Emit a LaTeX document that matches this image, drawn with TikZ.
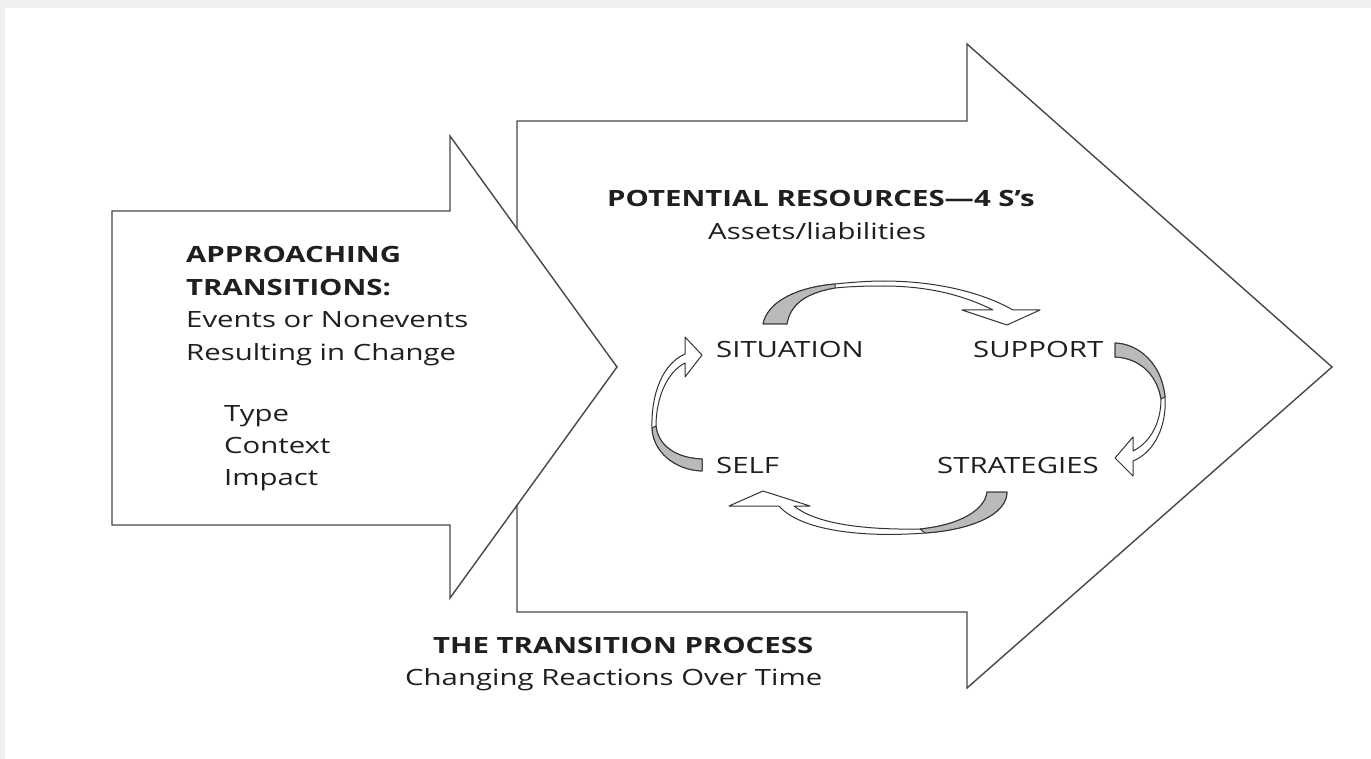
\documentclass[tikz,border=0pt]{standalone}
\usepackage{fontspec}
\setmainfont{Open Sans}[FakeStretch=1.31]
\tikzset{
  bigarrow/.style={draw=black!72, line width=1.4pt, fill=white, line join=miter},
  ribbon/.style={draw=black!80, line width=1pt, fill=white, line join=round},
  ribbongray/.style={draw=black!80, line width=1pt, fill=black!27, line join=round},
  lbl/.style={anchor=base west, inner sep=0pt, text=black!88, font=\fontsize{22.4}{26}\selectfont},
  lblb/.style={lbl, font=\fontsize{22.4}{26}\selectfont\bfseries},
}
\begin{document}
\begin{tikzpicture}[x=1pt,y=-1pt]
\useasboundingbox (0,0) rectangle (1371,759);
\fill[black!6] (0,0) rectangle (1371,759);
\fill[white] (5,8) rectangle (1371,759);

% big arrows
\draw[bigarrow] (517,121) -- (967,121) -- (967,44) -- (1332,367) -- (967,688) -- (967,612) -- (517,612) -- cycle;
\draw[bigarrow] (112,211) -- (450,211) -- (450,136) -- (617,367) -- (450,598) -- (450,525) -- (112,525) -- cycle;

% left block text
\node[lblb] (appr) at (186,263) {APPROACHING};
\node[lblb] (trans) at (186,296) {TRANSITIONS:};
\node[lbl] (events) at (186,328) {Events or Nonevents};
\node[lbl] (result) at (186,360) {Resulting in Change};
\node[lbl] (type) at (224,421) {Type};
\node[lbl] (context) at (224,453) {Context};
\node[lbl] (impact) at (224,485) {Impact};

% resources
\node[lblb] (potential) at (607,207) {POTENTIAL RESOURCES—4 S’s};
\node[lbl] (assets) at (708,240) {Assets/liabilities};

% 4 S's
\node[lbl] (situation) at (716,357) {SITUATION};
\node[lbl] (support) at (973,357) {SUPPORT};
\node[lbl] (self) at (716,473) {SELF};
\node[lbl] (strategies) at (937,473) {STRATEGIES};

% process
\node[lblb] (process) at (433,653) {THE TRANSITION PROCESS};
\node[lbl] (changing) at (405,685) {Changing Reactions Over Time};

% top ribbon arrow: situation -> support
\draw[ribbon] (763,324) .. controls (768,300) and (800,287) .. (835,284)
  .. controls (855,282) and (870,281) .. (883,281)
  .. controls (940,281) and (985,294) .. (1013,310)
  -- (1040,310) -- (1007,325) -- (962,310) -- (993,310)
  .. controls (965,296) and (930,286) .. (883,286)
  .. controls (865,286) and (850,286.5) .. (835,288)
  .. controls (805,293) and (790,305) .. (787,324) -- cycle;
\draw[ribbongray] (763,324) .. controls (768,300) and (800,287) .. (835,284)
  -- (835,288) .. controls (805,293) and (790,305) .. (787,324) -- cycle;

% right ribbon arrow: support -> strategies
\draw[ribbon] (1115,343) .. controls (1140,344) and (1162,365) .. (1165,397)
  .. controls (1167,425) and (1155,452) .. (1133,461)
  -- (1133,476) -- (1115,458) -- (1133,437) -- (1133,451)
  .. controls (1151,442) and (1161,422) .. (1161,399)
  .. controls (1157,375) and (1140,358) .. (1115,357) -- cycle;
\draw[ribbongray] (1115,343) .. controls (1140,344) and (1162,365) .. (1165,397)
  -- (1161,399) .. controls (1157,375) and (1140,358) .. (1115,357) -- cycle;

% bottom ribbon arrow: strategies -> self
\draw[ribbon] (987,492) -- (1007,492) .. controls (1007,515) and (970,530) .. (925,533)
  .. controls (860,538) and (800,530) .. (779,506)
  -- (729,506) -- (763,491) -- (810,506) -- (794,506)
  .. controls (815,523) and (860,530) .. (920,529)
  .. controls (960,525) and (985,510) .. (987,492) -- cycle;
\draw[ribbongray] (1007,492) .. controls (1007,515) and (970,530) .. (925,533)
  -- (920,529) .. controls (960,525) and (985,510) .. (987,492) -- cycle;

% left ribbon arrow: self -> situation
\draw[ribbon] (702,471) .. controls (675,470) and (653,452) .. (652,428)
  .. controls (651,395) and (662,364) .. (685,354)
  -- (685,337) -- (702,355) -- (685,377) -- (685,363)
  .. controls (667,372) and (656,398) .. (656,426)
  .. controls (658,445) and (675,458) .. (702,459) -- cycle;
\draw[ribbongray] (702,471) .. controls (675,470) and (653,452) .. (652,428)
  -- (656,426) .. controls (658,445) and (675,458) .. (702,459) -- cycle;
\end{tikzpicture}
\end{document}
